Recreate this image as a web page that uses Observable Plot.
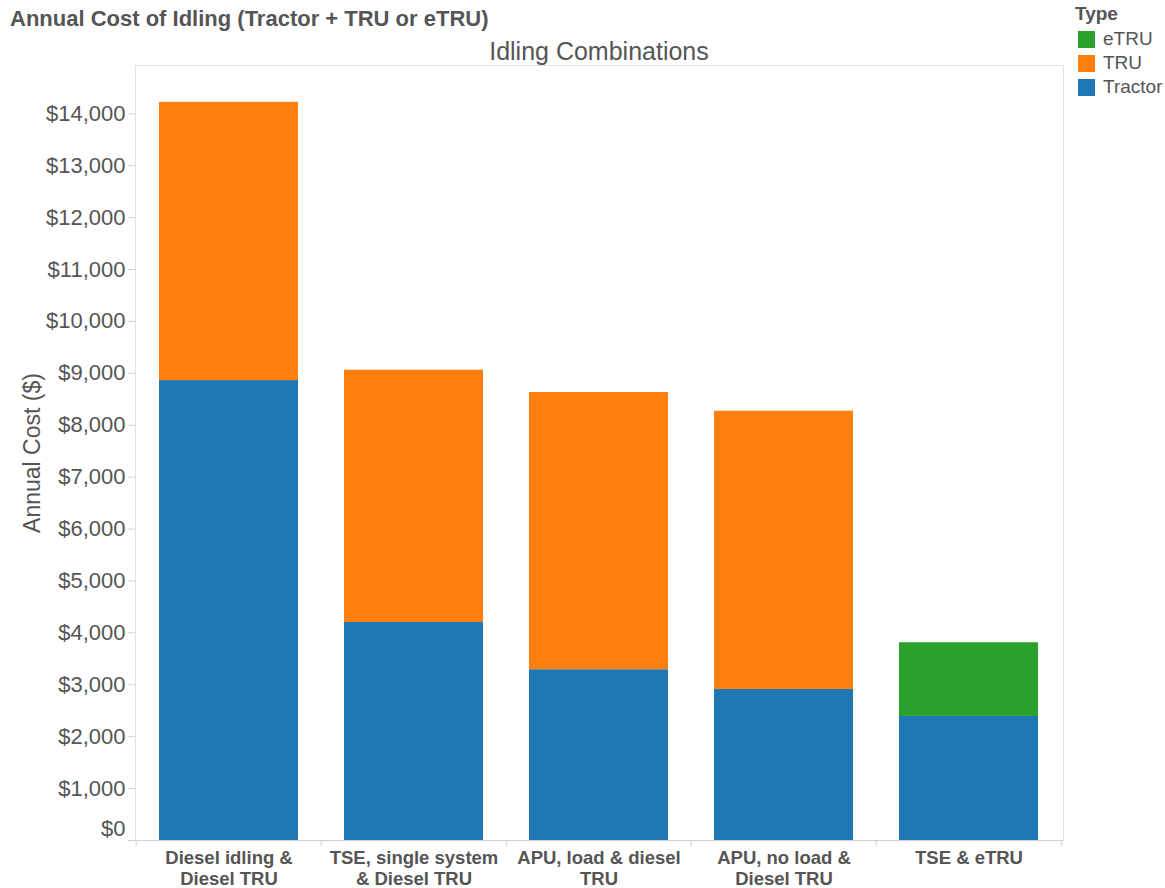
<!DOCTYPE html>
<html>
<head>
<meta charset="utf-8">
<script src="https://cdn.jsdelivr.net/npm/d3@7"></script>
<script src="https://cdn.jsdelivr.net/npm/@observablehq/plot@0.6"></script>
<style>
  html, body { margin: 0; padding: 0; background: #fff; }
  body { font-family: "Liberation Sans", Arial, sans-serif; }
  #wrap { position: relative; width: 1165px; height: 888px; overflow: hidden; }
  #title { position: absolute; left: 10px; top: 6px; font-size: 22px; font-weight: bold; color: #555; white-space: nowrap; }
  #xhead { position: absolute; left: 135px; width: 928px; top: 37px; text-align: center; font-size: 25px; color: #555; }
  #legend { position: absolute; left: 1075px; top: 3px; color: #555; white-space: nowrap; }
  #legend .lt { font-size: 19px; font-weight: bold; margin-bottom: 2px; }
  #legend .it { display: flex; align-items: center; height: 24px; font-size: 19px; }
  #legend .sw { width: 17px; height: 17px; margin-left: 3px; margin-right: 8px; }
  #chart { position: absolute; left: 0; top: 0; }
</style>
</head>
<body>
<div id="wrap">
  <div id="chart"></div>
  <div id="title"></div>
  <div id="xhead"></div>
  <div id="legend"></div>
</div>
<script>
// ---- data ----
const categories = [
  "Diesel idling & Diesel TRU",
  "TSE, single system & Diesel TRU",
  "APU, load & diesel TRU",
  "APU, no load & Diesel TRU",
  "TSE & eTRU"
];
const categoryLabels = [
  "Diesel idling &\nDiesel TRU",
  "TSE, single system\n& Diesel TRU",
  "APU, load & diesel\nTRU",
  "APU, no load &\nDiesel TRU",
  "TSE & eTRU"
];
const tractorCost = [8860, 4200, 3290, 2910, 2390];
const truCost = [5360, 4860, 5340, 5360, 0];
const etruCost = [0, 0, 0, 0, 1420];
const types = ["eTRU", "TRU", "Tractor"];
const typeColors = ["#2ca02c", "#ff7f0e", "#1f77b4"];
const yTicks = [0, 1000, 2000, 3000, 4000, 5000, 6000, 7000, 8000, 9000, 10000, 11000, 12000, 13000, 14000];
const titleText = "Annual Cost of Idling (Tractor + TRU or eTRU)";
const xHeader = "Idling Combinations";
const yLabel = "Annual Cost ($)";
const legendTitle = "Type";

// ---- table ----
const rows = [];
categories.forEach((c, i) => rows.push({combo: c, type: "Tractor", cost: tractorCost[i]}));
categories.forEach((c, i) => { if (truCost[i] > 0) rows.push({combo: c, type: "TRU", cost: truCost[i]}); });
categories.forEach((c, i) => { if (etruCost[i] > 0) rows.push({combo: c, type: "eTRU", cost: etruCost[i]}); });
const labelOf = new Map(categories.map((c, i) => [c, categoryLabels[i]]));

// ---- layout ----
const W = 1165, H = 888, mL = 135, mR = 102, mT = 65, mB = 48;
const step = (W - mL - mR) / categories.length;
const fmt = d => "$" + d3.format(",")(d);
const font = '"Liberation Sans", Arial, sans-serif';

const chart = Plot.plot({
  width: W,
  height: H,
  marginLeft: mL,
  marginRight: mR,
  marginTop: mT,
  marginBottom: mB,
  style: {fontFamily: font, color: "#555", background: "transparent"},
  x: {domain: categories, paddingInner: 0.246, paddingOuter: 0.123},
  y: {domain: [0, 14930]},
  color: {domain: types, range: typeColors},
  marks: [
    Plot.frame({stroke: "#e2e2e2"}),
    Plot.barY(rows, {x: "combo", y: "cost", fill: "type", order: null}),
    Plot.ruleY([0], {stroke: "#d0d0d0"}),
    Plot.axisY({
      ticks: yTicks, tickSize: 7, tickPadding: 3, stroke: "#cfcfcf",
      tickFormat: d => d === 0 ? "" : fmt(d),
      fontSize: 22, fill: "#555",
      label: yLabel, labelAnchor: "center", labelOffset: 112, labelArrow: "none"
    }),
    Plot.text([0], {y: d => d, frameAnchor: "left", dx: -10, dy: -12, textAnchor: "end", text: d => fmt(d), fontSize: 22, fill: "#555"}),
    Plot.axisX({ticks: categories, tickSize: 6, tickFormat: () => "", dx: -step / 2, stroke: "#d0d0d0", label: null}),
    Plot.axisX({ticks: categories.slice(-1), tickSize: 6, tickFormat: () => "", dx: step / 2, stroke: "#d0d0d0", label: null}),
    Plot.text(categories, {
      x: d => d, text: d => labelOf.get(d), frameAnchor: "bottom", lineAnchor: "top",
      dy: 8, fontSize: 18.5, fontWeight: "bold", fill: "#555", lineHeight: 1.15
    })
  ]
});
document.getElementById("chart").appendChild(chart);

// style the y label
document.querySelectorAll('[aria-label="y-axis label"]').forEach(g => {
  g.setAttribute("font-size", "23");
  g.setAttribute("fill", "#555");
});

document.getElementById("title").textContent = titleText;
document.getElementById("xhead").textContent = xHeader;
const lg = document.getElementById("legend");
const lt = document.createElement("div"); lt.className = "lt"; lt.textContent = legendTitle; lg.appendChild(lt);
types.forEach((t, i) => {
  const it = document.createElement("div"); it.className = "it";
  const sw = document.createElement("div"); sw.className = "sw"; sw.style.background = typeColors[i];
  const tx = document.createElement("span"); tx.textContent = t;
  it.appendChild(sw); it.appendChild(tx); lg.appendChild(it);
});
</script>
</body>
</html>
